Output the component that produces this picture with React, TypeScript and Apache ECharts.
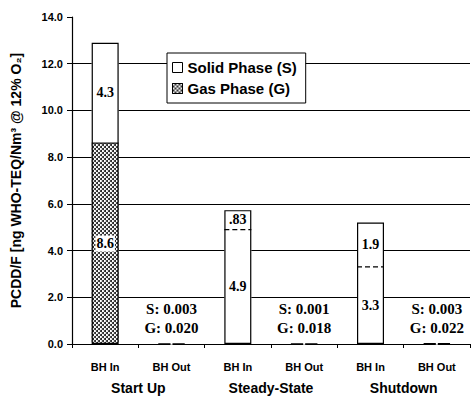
import React, { useEffect, useRef } from "react";
import * as echarts from "echarts";

const categories = ["BH In", "BH Out", "BH In", "BH Out", "BH In", "BH Out"];
const groups = ["Start Up", "Steady-State", "Shutdown"];
const gasValues = [8.6, 0.02, 4.9, 0.018, 3.3, 0.022];
const solidValues = [4.3, 0.003, 0.83, 0.001, 1.9, 0.003];
const gasLabels = ["8.6", "", "4.9", "", "3.3", ""];
const solidLabels = ["4.3", "", ".83", "", "1.9", ""];
const outGasText = ["", "0.020", "", "0.018", "", "0.022"];
const outSolidText = ["", "0.003", "", "0.001", "", "0.003"];
const patternedIndex = [0];

const SERIF = "'Liberation Serif', 'Times New Roman', serif";
const SANS = "'Liberation Sans', Arial, sans-serif";
const BAR_W = 27;

const dotDecal = {
  symbol: "circle",
  symbolSize: 1,
  color: "#111",
  backgroundColor: "#fff",
  dashArrayX: [
    [1.5, 1.5],
    [0, 1.5, 1.5, 0],
  ],
  dashArrayY: [1.5, 0],
  rotation: 0,
};

export default function App() {
  const ref = useRef<HTMLDivElement>(null);
  useEffect(() => {
    if (!ref.current) return;
    const chart = echarts.init(ref.current, undefined, { renderer: "svg" });
    const segLabel = (texts: string[]) => (p: any) => texts[p.dataIndex] || "";
    const separators = gasValues
      .map((g, i) => [i, g, patternedIndex.includes(i) ? 0 : 1])
      .filter((d) => categories[d[0]] === "BH In");
    const option: any = {
      animation: false,
      backgroundColor: "#fff",
      grid: { left: 72, right: 1, top: 17, bottom: 54 },
      legend: {
        left: 167,
        top: 53,
        orient: "vertical",
        backgroundColor: "#fff",
        borderColor: "#000",
        borderWidth: 1,
        padding: [7, 9, 7, 5],
        itemGap: 6,
        itemWidth: 10,
        itemHeight: 10,
        textStyle: { fontFamily: SANS, fontWeight: "bold", fontSize: 15, color: "#000" },
        data: [
          {
            name: "Solid Phase (S)",
            icon: "rect",
            itemStyle: { color: "#fff", borderColor: "#000", borderWidth: 1 },
          },
          {
            name: "Gas Phase (G)",
            icon: "rect",
            itemStyle: { color: "#fff", borderColor: "#000", borderWidth: 1, decal: dotDecal },
          },
        ],
      },
      xAxis: [
        {
          type: "category",
          data: categories,
          axisLine: { lineStyle: { color: "#000", width: 1.2 } },
          axisTick: { show: true, length: 4, lineStyle: { color: "#000" } },
          axisLabel: { color: "#000", fontWeight: "bold", fontSize: 11, fontFamily: SANS, margin: 17 },
        },
        {
          type: "category",
          data: groups,
          position: "bottom",
          axisLine: { show: false },
          axisTick: { show: false },
          splitLine: { show: false },
          axisLabel: { color: "#000", fontWeight: "bold", fontSize: 14, fontFamily: SANS, margin: 37 },
        },
      ],
      yAxis: {
        type: "value",
        min: 0,
        max: 14,
        interval: 2,
        name: "PCDD/F [ng WHO-TEQ/Nm³ @ 12% O₂]",
        nameLocation: "middle",
        nameGap: 49,
        nameTextStyle: { fontFamily: SANS, fontWeight: "bold", fontSize: 14, color: "#000" },
        axisLine: { show: true, lineStyle: { color: "#000", width: 1.2 } },
        axisTick: { show: true, length: 5, lineStyle: { color: "#000" } },
        splitLine: { show: true, showMaxLine: false, lineStyle: { color: "#000", width: 1 } },
        axisLabel: {
          color: "#000",
          fontWeight: "bold",
          fontSize: 11,
          fontFamily: SANS,
          margin: 9,
          formatter: (v: number) => v.toFixed(1),
        },
      },
      series: [
        {
          name: "Gas Phase (G)",
          type: "bar",
          stack: "p",
          barWidth: BAR_W,
          itemStyle: { color: "#fff", borderWidth: 0 },
          label: {
            show: true,
            position: "inside",
            formatter: segLabel(gasLabels),
            fontFamily: SERIF,
            fontWeight: "bold",
            fontSize: 14,
            color: "#000",
            backgroundColor: "#fff",
            padding: [1, 1],
          },
          data: gasValues.map((v, i) =>
            patternedIndex.includes(i)
              ? { value: v, itemStyle: { color: "#fff", decal: dotDecal } }
              : v
          ),
        },
        {
          name: "Solid Phase (S)",
          type: "bar",
          stack: "p",
          barWidth: BAR_W,
          itemStyle: { color: "#fff", borderWidth: 0 },
          label: {
            show: true,
            position: "inside",
            formatter: segLabel(solidLabels),
            fontFamily: SERIF,
            fontWeight: "bold",
            fontSize: 14,
            color: "#000",
          },
          data: solidValues,
        },
        {
          name: "outline",
          type: "bar",
          barWidth: BAR_W,
          barGap: "-100%",
          silent: true,
          itemStyle: { color: "rgba(0,0,0,0)", borderColor: "#000", borderWidth: 1.2 },
          label: {
            show: true,
            position: "top",
            distance: 6,
            formatter: (p: any) =>
              outGasText[p.dataIndex]
                ? `S: ${outSolidText[p.dataIndex]}\nG: ${outGasText[p.dataIndex]}`
                : "",
            fontFamily: SERIF,
            fontWeight: "bold",
            fontSize: 15,
            lineHeight: 19,
            color: "#000",
          },
          data: gasValues.map((g, i) => +(g + solidValues[i]).toFixed(3)),
        },
        {
          name: "separator",
          type: "custom",
          silent: true,
          renderItem: (params: any, api: any) => {
            const p = api.coord([api.value(0), api.value(1)]);
            const dashed = api.value(2) === 1;
            return {
              type: "line",
              shape: { x1: p[0] - BAR_W / 2, y1: p[1], x2: p[0] + BAR_W / 2, y2: p[1] },
              style: { stroke: "#000", lineWidth: 1.2, lineDash: dashed ? [5, 3] : null },
            };
          },
          data: separators,
          z: 3,
        },
      ],
    };
    chart.setOption(option);
    return () => chart.dispose();
  }, []);
  return (
    <div
      ref={ref}
      style={{ position: "fixed", left: 0, top: 0, width: 471, height: 398 }}
    />
  );
}
